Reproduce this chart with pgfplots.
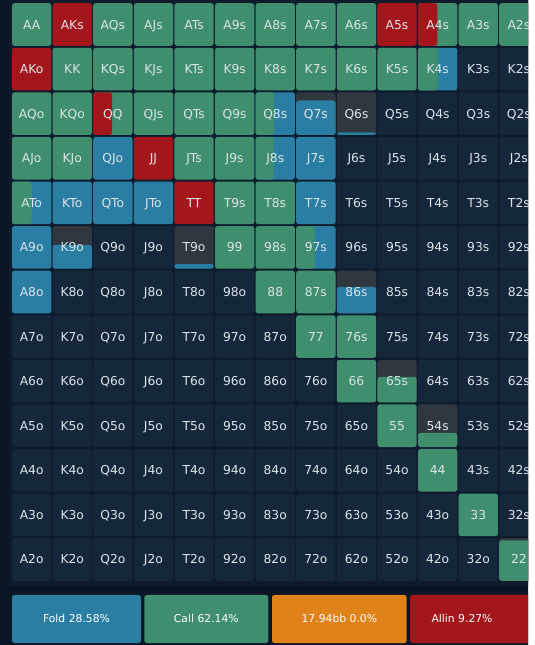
\documentclass[border=0pt]{standalone}
\usepackage{pgfplots}
\pgfplotsset{compat=1.18}
\usepackage{pgfplotstable}
\usepackage{fontspec}
\setmainfont{DejaVu Sans}
\definecolor{pagebg}{HTML}{0A1525}
\definecolor{panelbg}{HTML}{0E1B2D}
\definecolor{cellbg}{HTML}{15273B}
\definecolor{grayc}{HTML}{30373F}
\definecolor{foldc}{HTML}{2A7DA3}
\definecolor{callc}{HTML}{3F8E6D}
\definecolor{allinc}{HTML}{A3171C}
\definecolor{raisec}{HTML}{E0821A}
\definecolor{labc}{HTML}{DDE4EA}

\def\rk#1{\ifcase#1\relax A\or K\or Q\or J\or T\or 9\or 8\or 7\or 6\or 5\or 4\or 3\or 2\fi}

% c = column, r = row, frac = share of the hand in the range (height),
% a = allin, k = call, f = fold (shares of the width)
\pgfplotstableread{
c r frac a k f
0 0 1 0 1 0
1 0 1 1 0 0
2 0 1 0 1 0
3 0 1 0 1 0
4 0 1 0 1 0
5 0 1 0 1 0
6 0 1 0 1 0
7 0 1 0 1 0
8 0 1 0 1 0
9 0 1 1 0 0
10 0 1 0.49 0.51 0
11 0 1 0 1 0
12 0 1 0 1 0
0 1 1 1 0 0
1 1 1 0 1 0
2 1 1 0 1 0
3 1 1 0 1 0
4 1 1 0 1 0
5 1 1 0 1 0
6 1 1 0 1 0
7 1 1 0 1 0
8 1 1 0 1 0
9 1 1 0 1 0
10 1 1 0 0.5 0.5
0 2 1 0 1 0
1 2 1 0 1 0
2 2 1 0.48 0.52 0
3 2 1 0 1 0
4 2 1 0 1 0
5 2 1 0 1 0
6 2 1 0 0.47 0.53
7 2 0.81 0 0 1
8 2 0.06 0 0 1
0 3 1 0 1 0
1 3 1 0 1 0
2 3 1 0 0 1
3 3 1 1 0 0
4 3 1 0 1 0
5 3 1 0 1 0
6 3 1 0 0.46 0.54
7 3 1 0 0 1
0 4 1 0 0.5 0.5
1 4 1 0 0 1
2 4 1 0 0 1
3 4 1 0 0 1
4 4 1 1 0 0
5 4 1 0 1 0
6 4 1 0 1 0
7 4 1 0 0 1
0 5 1 0 0 1
1 5 0.56 0 0 1
4 5 0.11 0 0 1
5 5 1 0 1 0
6 5 1 0 1 0
7 5 1 0 0.47 0.53
0 6 1 0 0 1
6 6 1 0 1 0
7 6 1 0 1 0
8 6 0.62 0 0 1
7 7 1 0 1 0
8 7 1 0 1 0
8 8 1 0 1 0
9 8 0.6 0 1 0
9 9 1 0 1 0
10 9 0.33 0 1 0
10 10 1 0 1 0
11 11 1 0 1 0
12 12 0.95 0 1 0
}\rangeT

\newcommand\rectplot[5]{%
  \pgfmathsetmacro\xm{(#2+#3)/2}%
  \edef\tmp{\noexpand\addplot[draw=none, fill=#1, rounded corners=2.5pt, forget plot]
    coordinates {(\xm,#5) (#3,#5) (#3,#4) (#2,#4) (#2,#5)} -- cycle;}\tmp}

\begin{document}
\begin{tikzpicture}
\begin{axis}[
  scale only axis, width=528pt, height=645pt,
  xmin=-0.7796, xmax=12.225, ymin=-0.5496, ymax=13.919,
  y dir=reverse, hide axis,
]
% backgrounds
\addplot[draw=none, fill=pagebg, forget plot] coordinates {(-2,-2) (14,-2) (14,15) (-2,15)} -- cycle;
\addplot[draw=none, fill=panelbg, forget plot] coordinates {(-0.558,-1) (13,-1) (13,12.595) (-0.558,12.595)} -- cycle;

% all cells
\pgfplotsforeachungrouped \rw in {0,...,12}{%
  \pgfplotsforeachungrouped \cl in {0,...,12}{%
    \pgfmathsetmacro\xa{\cl-0.484}\pgfmathsetmacro\xb{\cl+0.484}%
    \pgfmathsetmacro\ya{\rw-0.478}\pgfmathsetmacro\yb{\rw+0.478}%
    \rectplot{cellbg}{\xa}{\xb}{\ya}{\yb}%
  }%
}

% hands in the range: colour parts laid over each other from the right
\pgfplotstablegetrowsof{\rangeT}
\pgfmathtruncatemacro\nR{\pgfplotsretval-1}
\pgfplotsforeachungrouped \i in {0,...,\nR}{%
  \pgfplotstablegetelem{\i}{c}\of\rangeT \let\cc\pgfplotsretval
  \pgfplotstablegetelem{\i}{r}\of\rangeT \let\rr\pgfplotsretval
  \pgfplotstablegetelem{\i}{frac}\of\rangeT \let\fr\pgfplotsretval
  \pgfplotstablegetelem{\i}{a}\of\rangeT \let\sa\pgfplotsretval
  \pgfplotstablegetelem{\i}{k}\of\rangeT \let\sk\pgfplotsretval
  \pgfplotstablegetelem{\i}{f}\of\rangeT \let\sf\pgfplotsretval
  \pgfmathsetmacro\xa{\cc-0.484}\pgfmathsetmacro\xb{\cc+0.484}%
  \pgfmathsetmacro\ya{\rr-0.478}\pgfmathsetmacro\yb{\rr+0.478}%
  \pgfmathsetmacro\yf{\yb-0.956*\fr}%
  \ifdim\fr pt<0.999pt \rectplot{grayc}{\xa}{\xb}{\ya}{\yb}\fi
  \pgfmathsetmacro\xr{\xa+0.968*\sa}%
  \pgfmathsetmacro\xg{\xr+0.968*\sk}%
  \ifdim\sf pt>0pt \rectplot{foldc}{\xa}{\xb}{\yf}{\yb}\fi
  \ifdim\sk pt>0pt \rectplot{callc}{\xa}{\xg}{\yf}{\yb}\fi
  \ifdim\sa pt>0pt \rectplot{allinc}{\xa}{\xr}{\yf}{\yb}\fi
}

% hand labels
\pgfplotsforeachungrouped \rw in {0,...,12}{%
  \pgfplotsforeachungrouped \cl in {0,...,12}{%
    \edef\lab{\ifnum\rw=\cl\relax \rk\rw\rk\cl\else\ifnum\cl>\rw\relax \rk\rw\rk\cl s\else\rk\cl\rk\rw o\fi\fi}%
    \edef\tmp{\noexpand\addplot[draw=none, mark=none, forget plot, point meta=explicit symbolic,
      nodes near coords, nodes near coords style={anchor=base, yshift=-4.5pt, text=labc,
      font=\noexpand\fontsize{12.3}{14}\noexpand\selectfont}]
      coordinates {(\cl,\rw) [\lab]};}\tmp
  }%
}

% legend boxes
\rectplot{foldc}{-0.484}{2.693}{12.797}{13.874}
\rectplot{callc}{2.775}{5.829}{12.797}{13.874}
\rectplot{raisec}{5.920}{9.238}{12.797}{13.874}
\rectplot{allinc}{9.319}{13.2}{12.797}{13.874}
\pgfplotsset{legtext/.style={draw=none, mark=none, forget plot, point meta=explicit symbolic,
  nodes near coords, nodes near coords style={anchor=base, yshift=-3.9pt, text=white,
  font=\fontsize{10.8}{13}\selectfont}}}
\addplot[legtext] coordinates {(1.1045,13.3355) [Fold 28.58\%]};
\addplot[legtext] coordinates {(4.302,13.3355) [Call 62.14\%]};
\addplot[legtext] coordinates {(7.579,13.3355) [17.94bb 0.0\%]};
\addplot[legtext] coordinates {(10.6,13.3355) [Allin 9.27\%]};
\end{axis}
\end{tikzpicture}
\end{document}
